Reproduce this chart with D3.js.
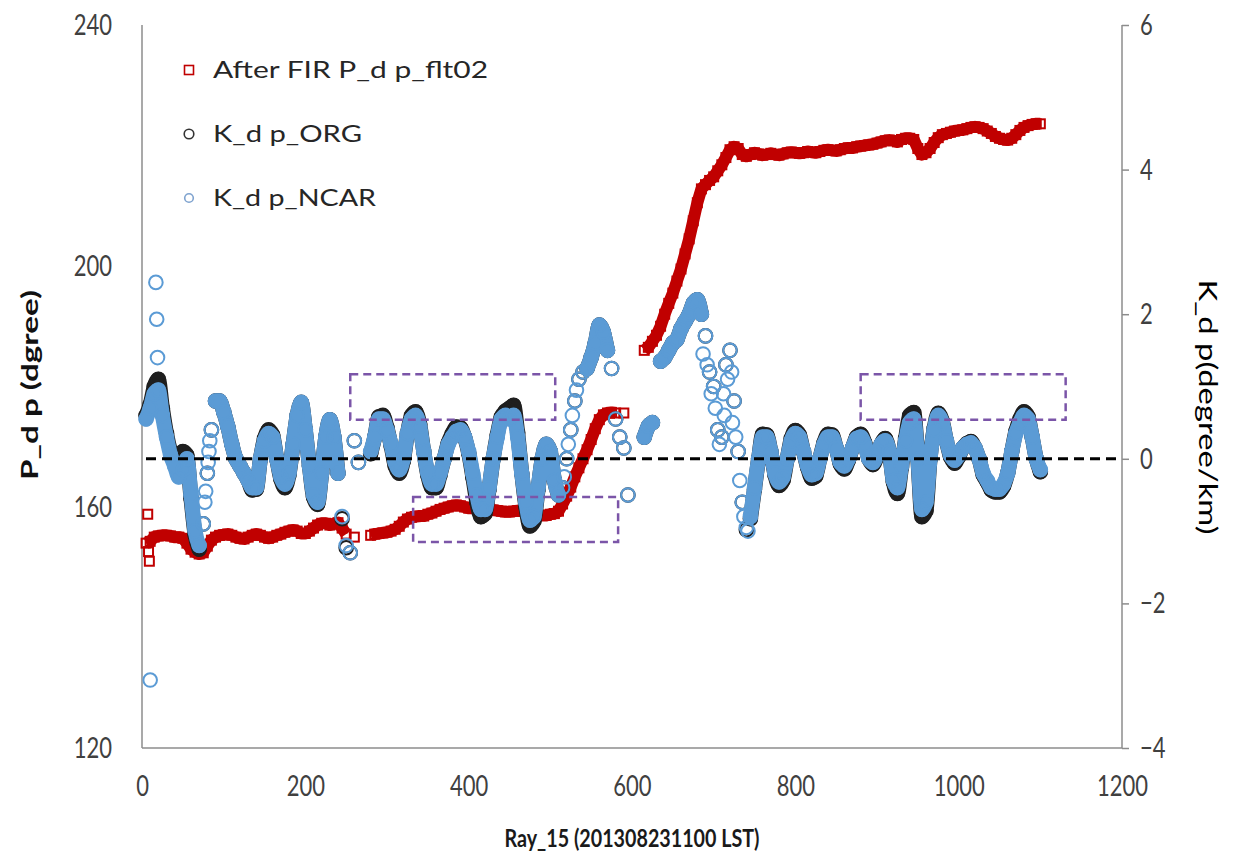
<!DOCTYPE html>
<html><head><meta charset="utf-8">
<script src="https://cdn.jsdelivr.net/npm/d3@7"></script>
<style>
body{margin:0;background:#fff}
svg{display:block}
text{font-family:Lato,"Open Sans",sans-serif}
</style>
</head><body>
<svg id="chart" width="1237" height="853"></svg>
<script>
// ---- data (ray index every 5 rays, 5..1100) ----
const rays = d3.range(5, 1101, 5);

const pdpFlt02 = [
 154.0,154.3,155.0,155.2,155.3,155.3,155.2,155.0,155.0,154.8,
 154.0,153.0,152.5,152.2,152.4,153.5,154.5,155.0,155.3,155.4,
 155.5,155.3,155.0,154.8,154.7,155.0,155.3,155.5,155.3,155.0,
 154.8,155.0,155.3,155.5,155.8,156.0,156.2,156.0,155.6,155.6,
 156.0,156.5,157.0,157.3,157.3,157.0,157.2,157.4,156.5,155.5,
 null,155.0,null,null,null,155.3,155.5,155.6,155.7,155.8,
 156.0,156.3,156.8,157.5,158.0,158.3,158.4,158.5,158.5,158.8,
 159.0,159.3,159.6,159.8,160.0,160.2,160.3,160.2,160.0,159.8,
 159.8,159.9,160.0,160.0,159.8,159.5,159.4,159.3,159.2,159.2,
 159.3,159.4,159.3,159.0,158.8,158.7,158.6,158.6,158.6,158.8,
 158.9,159.3,160.5,161.8,163.3,165.0,166.5,168.0,169.5,171.2,
 173.0,174.5,175.3,175.6,175.7,175.6,null,175.6,null,null,
 null,null,186.0,186.5,187.5,188.5,190.0,192.0,193.8,195.5,
 197.5,199.5,202.0,204.5,207.5,210.5,212.8,213.5,214.2,214.8,
 215.8,216.8,218.0,219.3,219.8,219.5,218.5,218.2,218.5,218.8,
 218.6,218.4,218.5,218.7,218.5,218.4,218.6,218.8,218.9,218.8,
 218.7,218.8,219.0,218.9,218.8,219.0,219.2,219.3,219.2,219.1,
 219.3,219.5,219.6,219.6,219.8,219.9,220.0,220.1,220.2,220.4,
 220.6,220.8,220.9,220.8,220.6,221.0,221.2,221.2,221.0,219.5,
 218.5,218.8,219.5,220.5,221.3,221.8,222.0,222.2,222.4,222.5,
 222.6,222.8,223.0,223.1,223.0,222.8,222.4,222.0,221.5,221.2,
 221.0,220.9,221.2,221.8,222.5,223.0,223.3,223.5,223.6,223.6
];
const pdpExtraRays = [7, 8, 9];
const pdpExtraVals = [158.8, 152.6, 151.0];

const kdpOrg = [
 0.6,0.75,1.0,1.1,0.7,0.35,0.1,-0.05,-0.1,0.1,
 0.05,-0.55,-1.05,-1.25,-0.9,-0.2,0.4,0.8,0.8,0.65,
 0.45,0.2,0.0,-0.1,-0.2,-0.3,-0.43,-0.42,0.0,0.28,
 0.4,0.33,0.0,-0.28,-0.4,-0.22,0.2,0.6,0.78,0.4,
 -0.1,-0.53,-0.63,-0.2,0.3,0.54,0.3,-0.2,-0.83,-1.23,
 -1.3,0.25,-0.05,null,null,0.07,0.3,0.58,0.6,0.43,
 0.18,-0.1,-0.2,-0.03,0.35,0.6,0.65,0.48,0.1,-0.23,
 -0.4,-0.4,-0.22,0.0,0.22,0.35,0.44,0.43,0.3,0.08,
 -0.25,-0.6,-0.8,-0.76,-0.42,0.0,0.33,0.58,0.66,0.7,
 0.74,0.36,-0.2,-0.66,-0.93,-0.86,-0.42,0.0,0.2,0.1,
 -0.3,-0.5,-0.4,0.0,0.4,0.8,1.1,1.2,1.25,1.4,
 1.6,1.85,1.75,1.5,1.25,0.55,0.3,0.15,-0.5,null,
 null,null,0.3,0.45,0.5,null,1.35,1.4,1.5,1.6,
 1.65,1.8,1.9,2.0,2.15,2.2,2.0,1.7,1.2,1.0,
 0.4,0.3,1.3,1.5,0.8,0.1,-0.6,-0.98,-0.83,-0.42,
 0.0,0.34,0.33,0.1,-0.22,-0.37,-0.3,0.0,0.28,0.39,
 0.33,0.1,-0.12,-0.27,-0.24,0.0,0.22,0.34,0.33,0.15,
 -0.07,-0.14,-0.02,0.15,0.3,0.34,0.22,0.0,-0.08,0.03,
 0.2,0.28,0.1,-0.32,-0.48,-0.12,0.28,0.6,0.64,0.0,
 -0.8,-0.72,0.0,0.42,0.63,0.52,0.25,0.03,-0.06,0.03,
 0.15,0.21,0.24,0.15,0.0,-0.22,-0.32,-0.43,-0.46,-0.46,
 -0.38,-0.2,0.1,0.38,0.55,0.65,0.58,0.3,0.0,-0.18
];

const kdpNcar = [
 0.55,0.7,0.9,0.95,0.6,0.3,0.05,-0.1,-0.25,-0.15,
 0.0,-0.5,-1.0,-1.2,-0.9,-0.2,0.4,0.8,0.8,0.65,
 0.45,0.2,0.0,-0.1,-0.2,-0.3,-0.4,-0.4,0.0,0.25,
 0.35,0.3,0.0,-0.25,-0.35,-0.2,0.2,0.6,0.78,0.4,
 -0.1,-0.5,-0.6,-0.2,0.3,0.54,0.3,-0.2,-0.8,-1.2,
 -1.3,0.25,-0.05,null,null,0.1,0.3,0.55,0.55,0.4,
 0.2,-0.05,-0.15,0.0,0.35,0.55,0.6,0.45,0.1,-0.2,
 -0.35,-0.35,-0.2,0.0,0.2,0.3,0.38,0.4,0.3,0.1,
 -0.2,-0.5,-0.7,-0.7,-0.4,0.0,0.3,0.55,0.6,0.55,
 0.6,0.3,-0.2,-0.6,-0.85,-0.8,-0.4,0.0,0.2,0.1,
 -0.3,-0.5,-0.4,0.0,0.4,0.8,1.1,1.2,1.25,1.4,
 1.6,1.85,1.75,1.5,1.25,0.55,0.3,0.15,-0.5,null,
 null,null,0.3,0.45,0.5,null,1.35,1.4,1.5,1.6,
 1.65,1.8,1.9,2.0,2.15,2.2,2.0,1.7,1.2,1.0,
 0.4,0.3,1.3,1.5,0.8,0.1,-0.6,-0.95,-0.8,-0.4,
 0.0,0.3,0.3,0.1,-0.2,-0.32,-0.25,0.0,0.25,0.35,
 0.3,0.1,-0.1,-0.22,-0.2,0.0,0.2,0.3,0.3,0.15,
 -0.05,-0.1,0.0,0.15,0.28,0.3,0.2,0.0,-0.05,0.05,
 0.2,0.25,0.1,-0.3,-0.4,-0.1,0.25,0.5,0.55,0.0,
 -0.7,-0.6,0.0,0.4,0.6,0.5,0.25,0.05,-0.02,0.05,
 0.15,0.2,0.22,0.15,0.0,-0.2,-0.3,-0.4,-0.42,-0.42,
 -0.35,-0.2,0.1,0.35,0.5,0.6,0.55,0.3,0.0,-0.15
];
const ncarExtraRays = [10,17,18,19,77,78,81,82,83,517,522,527,532,687,692,697,702,707,712,713,717,722,723,727,732,737,742];
const ncarExtraVals = [-3.06,2.44,1.93,1.4,-0.6,-0.45,-0.05,0.1,0.25,-0.25,0.2,0.6,0.95,1.45,1.3,0.9,0.7,0.2,0.9,0.6,1.1,1.2,0.5,0.3,-0.3,-0.8,-1.0];

// ray ranges where the K_dp markers are sparse (drawn as separate hollow circles)
const kdpSparseStart = [72, 243, 512, 572, 688];
const kdpSparseEnd   = [86, 275, 540, 612, 742];

const xTickValues = [0,200,400,600,800,1000,1200];
const leftTickValues = [120,160,200,240];
const rightTickValues = [-4,-2,0,2,4,6];
const legendLabels = ["After FIR P_d p_flt02", "K_d p_ORG", "K_d p_NCAR"];
// highlighted boxes: ray range and K_dp range (right axis)
const boxRay0 = [255, 332, 880];
const boxRay1 = [506, 583, 1131];
const boxK0 = [0.54, -1.15, 0.54];
const boxK1 = [1.17, -0.53, 1.17];

// ---- layout ----
const svg = d3.select("#chart");
const L = 142, R = 1122, T = 25, B = 748;
const x = d3.scaleLinear([0, 1200], [L, R]);
const yL = d3.scaleLinear([120, 240], [B, T]);
const yR = d3.scaleLinear([-4, 6], [B, T]);
const axisColor = "#8c8c8c", labelColor = "#404040";
const redC = "#c00000", blueC = "#5b9bd5", blackC = "#1f1f1f";

function series(vals, rs) {
  return rs.map((r, i) => ({r, v: vals[i]})).filter(d => d.v != null);
}
function stretch(sel, kx, ky) {
  sel.each(function() {
    const b = this.getBBox();
    const cx = b.x + b.width / 2, cy = b.y + b.height / 2;
    const prev = d3.select(this).attr("transform") || "";
    d3.select(this).attr("transform", `${prev} translate(${cx},${cy}) scale(${kx},${ky}) translate(${-cx},${-cy})`);
  });
}
const inSparse = r => kdpSparseStart.some((s, i) => r >= s && r <= kdpSparseEnd[i]);

// axes
const fmt = d3.format("d");
const gL = svg.append("g").attr("transform", `translate(${L},0)`)
  .call(d3.axisLeft(yL).tickValues(leftTickValues).tickFormat(fmt).tickSize(0).tickPadding(30));
const gB = svg.append("g").attr("transform", `translate(0,${B})`)
  .call(d3.axisBottom(x).tickValues(xTickValues).tickFormat(fmt).tickSize(0).tickPadding(30));
const gR = svg.append("g").attr("transform", `translate(${R},0)`)
  .call(d3.axisRight(yR).tickValues(rightTickValues).tickFormat(fmt).tickSize(7).tickPadding(11));
[gL, gB, gR].forEach(g => {
  g.select(".domain").remove();
  g.selectAll("text").attr("fill", labelColor).style("font-size", "22px").style("font-family", "Lato,'Open Sans',sans-serif");
  g.selectAll("line").attr("stroke", axisColor).attr("stroke-width", 1.5);
  stretch(g.selectAll("text"), 1, 1.3);
});
svg.append("line").attr("x1", L).attr("x2", L).attr("y1", T).attr("y2", B).attr("stroke", axisColor).attr("stroke-width", 1.5);
svg.append("line").attr("x1", R).attr("x2", R).attr("y1", T).attr("y2", B).attr("stroke", axisColor).attr("stroke-width", 1.5);
svg.append("line").attr("x1", L).attr("x2", R).attr("y1", B).attr("y2", B).attr("stroke", axisColor).attr("stroke-width", 1.5);

// P_dp squares (left axis): dense markers merge into a band
const sq = 9;
const pdpMain = rays.map((r, i) => ({r, v: pdpFlt02[i]}));
svg.append("path").datum(pdpMain)
  .attr("d", d3.line().defined(d => d.v != null).x(d => x(d.r)).y(d => yL(d.v)))
  .attr("fill", "none").attr("stroke", redC).attr("stroke-width", 12).attr("stroke-linejoin", "round");
const pdpPts = series(pdpFlt02, rays).concat(series(pdpExtraVals, pdpExtraRays));
svg.append("g").selectAll("rect").data(pdpPts).join("rect")
  .attr("x", d => x(d.r) - sq/2).attr("y", d => yL(d.v) - sq/2)
  .attr("width", sq).attr("height", sq)
  .attr("fill", "none").attr("stroke", redC).attr("stroke-width", 2);

// K_dp circles (right axis)
function kdpLayer(vals, color, extraR, extraV) {
  const main = rays.map((r, i) => ({r, v: vals[i]}));
  svg.append("path").datum(main)
    .attr("d", d3.line().defined(d => d.v != null && !inSparse(d.r)).curve(d3.curveMonotoneX).x(d => x(d.r)).y(d => yR(d.v)))
    .attr("fill", "none").attr("stroke", color).attr("stroke-width", 15)
    .attr("stroke-linejoin", "round").attr("stroke-linecap", "round");
  const pts = series(vals, rays).concat(extraR ? series(extraV, extraR) : []);
  svg.append("g").selectAll("circle").data(pts).join("circle")
    .attr("cx", d => x(d.r)).attr("cy", d => yR(d.v)).attr("r", 6.8)
    .attr("fill", "none").attr("stroke", color).attr("stroke-width", 2);
}
kdpLayer(kdpOrg, blackC);
kdpLayer(kdpNcar, blueC, ncarExtraRays, ncarExtraVals);

// zero line
svg.append("line").attr("x1", L + 4).attr("x2", R).attr("y1", yR(0)).attr("y2", yR(0))
  .attr("stroke", "#000").attr("stroke-width", 3).attr("stroke-dasharray", "10,6");

// highlight boxes
svg.append("g").selectAll("rect").data(boxRay0.map((r, i) => i)).join("rect")
  .attr("x", i => x(boxRay0[i])).attr("width", i => x(boxRay1[i]) - x(boxRay0[i]))
  .attr("y", i => yR(boxK1[i])).attr("height", i => yR(boxK0[i]) - yR(boxK1[i]))
  .attr("fill", "none").attr("stroke", "#7b55a8").attr("stroke-width", 2.5).attr("stroke-dasharray", "8,5");

// legend
const lg = svg.append("g");
const legY = [70, 134, 198];
const legLen = [275, 149, 163];
lg.append("rect").attr("x", 189 - 4.5).attr("y", legY[0] - 4.5).attr("width", 9).attr("height", 9)
  .attr("fill", "none").attr("stroke", redC).attr("stroke-width", 1.6);
lg.append("circle").attr("cx", 189).attr("cy", legY[1]).attr("r", 4.8).attr("fill", "none").attr("stroke", "#333").attr("stroke-width", 1.6);
lg.append("circle").attr("cx", 189).attr("cy", legY[2]).attr("r", 4.3).attr("fill", "none").attr("stroke", "#7fa3cf").attr("stroke-width", 1.6);
lg.selectAll("text").data(legendLabels).join("text")
  .attr("x", 213).attr("y", (d, i) => legY[i]).attr("dy", "0.36em")
  .attr("textLength", (d, i) => legLen[i]).attr("lengthAdjust", "spacingAndGlyphs")
  .attr("fill", "#262626").style("font-size", "23px").text(d => d);

// axis titles
svg.append("text").attr("transform", "translate(38,385) rotate(-90)").attr("text-anchor", "middle")
  .attr("textLength", 190).attr("lengthAdjust", "spacingAndGlyphs")
  .attr("fill", "#111").style("font-size", "22px").style("font-weight", "bold").text("P_d p (dgree)");
svg.append("text").attr("transform", "translate(1199,407) rotate(90)").attr("text-anchor", "middle")
  .attr("textLength", 255).attr("lengthAdjust", "spacingAndGlyphs")
  .attr("fill", "#000").style("font-size", "25px").text("K_d p(degree/km)");
const xt = svg.append("text").attr("x", 632).attr("y", 846).attr("text-anchor", "middle")
  .attr("textLength", 255).attr("lengthAdjust", "spacingAndGlyphs")
  .attr("fill", "#1a1a1a").style("font-size", "21px").style("font-weight", "bold").text("Ray_15 (201308231100 LST)");
stretch(xt, 1, 1.15);
</script>
</body></html>
